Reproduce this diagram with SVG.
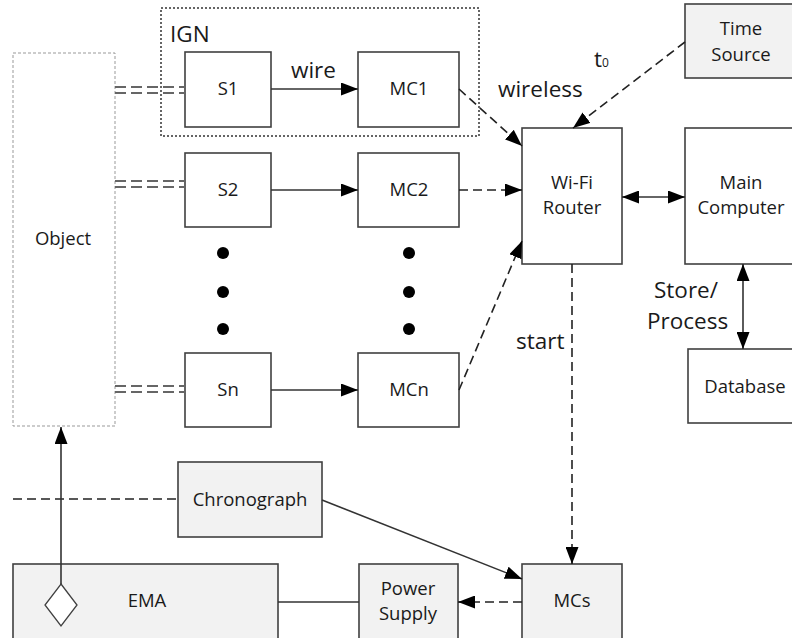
<svg xmlns="http://www.w3.org/2000/svg" width="792" height="638" viewBox="0 0 792 638">
<defs>
<marker id="ah" markerUnits="userSpaceOnUse" markerWidth="18" markerHeight="13" refX="17" refY="6.5" orient="auto-start-reverse">
<path d="M0,0 L17,6.5 L0,13 z" fill="#000"/>
</marker>
<style>
.box{fill:#fff;stroke:#404040;stroke-width:1.6}
.gbox{fill:#f2f2f2;stroke:#404040;stroke-width:1.6}
.t{font-family:"Open Sans","Liberation Sans",sans-serif;font-size:18.5px;fill:#1a1a1a;text-anchor:middle}
.lbl{font-family:"Open Sans","Liberation Sans",sans-serif;font-size:22.5px;fill:#1a1a1a}
.solid{fill:none;stroke:#333;stroke-width:1.6}
.dash{fill:none;stroke:#222;stroke-width:1.6;stroke-dasharray:9,5}
.dbl{fill:none;stroke:#666;stroke-width:2.2;stroke-dasharray:11,5}
</style>
</defs>
<rect width="792" height="638" fill="#fff"/>

<g id="IGN">
<rect x="161" y="8" width="318" height="128" fill="none" stroke="#333" stroke-width="1.5" stroke-dasharray="2,2"/>
<text class="lbl" x="170" y="42">IGN</text>
</g>

<g id="Object">
<rect x="13" y="53" width="102" height="373" fill="#fff" stroke="#999" stroke-width="1" stroke-dasharray="3,2"/>
<text class="t" x="63" y="245">Object</text>
</g>

<g id="S1"><rect class="box" x="185" y="52" width="86" height="75"/><text class="t" x="228" y="95">S1</text></g>
<g id="MC1"><rect class="box" x="358" y="52" width="101" height="75"/><text class="t" x="409" y="95">MC1</text></g>
<g id="S2"><rect class="box" x="185" y="153" width="86" height="74"/><text class="t" x="228" y="196">S2</text></g>
<g id="MC2"><rect class="box" x="358" y="153" width="101" height="74"/><text class="t" x="409" y="196">MC2</text></g>
<g id="Sn"><rect class="box" x="185" y="353" width="86" height="74"/><text class="t" x="228" y="396">Sn</text></g>
<g id="MCn"><rect class="box" x="358" y="353" width="101" height="74"/><text class="t" x="409" y="396">MCn</text></g>

<g id="dots" fill="#000">
<circle cx="223" cy="253" r="6"/><circle cx="223" cy="292" r="6"/><circle cx="223" cy="329" r="6"/>
<circle cx="409" cy="253" r="6"/><circle cx="409" cy="292" r="6"/><circle cx="409" cy="329" r="6"/>
</g>

<g id="TimeSource"><rect class="gbox" x="685" y="4" width="115" height="74"/><text class="t" x="741" y="35">Time</text><text class="t" x="741" y="61">Source</text></g>
<g id="Router"><rect class="box" x="522" y="128" width="100" height="136"/><text class="t" x="572" y="189">Wi-Fi</text><text class="t" x="572" y="214">Router</text></g>
<g id="MainComputer"><rect class="box" x="685" y="128" width="115" height="136"/><text class="t" x="741" y="189">Main</text><text class="t" x="741" y="214">Computer</text></g>
<g id="Database"><rect class="box" x="688" y="349" width="115" height="74"/><text class="t" x="745" y="393">Database</text></g>
<g id="Chronograph"><rect class="gbox" x="178" y="462" width="144" height="75"/><text class="t" x="250" y="506">Chronograph</text></g>
<g id="EMA"><rect class="gbox" x="13" y="564" width="265" height="80"/><text class="t" x="147" y="607">EMA</text>
<path d="M61,584 L77,605 L61,626 L45,605 z" fill="#fff" stroke="#404040" stroke-width="1.3"/></g>
<g id="PowerSupply"><rect class="gbox" x="359" y="564" width="99" height="80"/><text class="t" x="408" y="595">Power</text><text class="t" x="408" y="620">Supply</text></g>
<g id="MCs"><rect class="gbox" x="522" y="564" width="100" height="80"/><text class="t" x="572" y="607">MCs</text></g>

<g id="connectors">
<path class="dbl" d="M115,87 H185 M115,93 H185"/>
<path class="dbl" d="M115,181 H185 M115,187 H185"/>
<path class="dbl" d="M115,386 H185 M115,392 H185"/>
<path class="solid" d="M271,89 H358" marker-end="url(#ah)"/>
<path class="solid" d="M271,190 H358" marker-end="url(#ah)"/>
<path class="solid" d="M271,390 H358" marker-end="url(#ah)"/>
<path class="dash" d="M459,89 L522,146" marker-end="url(#ah)"/>
<path class="dash" d="M459,190 H522" marker-end="url(#ah)"/>
<path class="dash" d="M459,390 L522,241" marker-end="url(#ah)"/>
<path class="dash" d="M685,42 L573,128" marker-end="url(#ah)"/>
<path class="solid" d="M622,197 H685" marker-start="url(#ah)" marker-end="url(#ah)"/>
<path class="solid" d="M743,264 V349" marker-start="url(#ah)" marker-end="url(#ah)"/>
<path class="dash" d="M572,264 V564" marker-end="url(#ah)"/>
<path class="dash" d="M13,499 H178" stroke="#555" stroke-width="2"/>
<path class="solid" d="M322,500 L522,579" marker-end="url(#ah)"/>
<path class="dash" d="M522,602 H458" marker-end="url(#ah)"/>
<path class="solid" d="M278,602 H359"/>
<path class="solid" d="M61,584 V427" marker-end="url(#ah)"/>
</g>

<g id="labels">
<text class="lbl" x="291" y="78">wire</text>
<text class="lbl" x="498" y="97">wireless</text>
<text class="lbl" x="594" y="67">t<tspan font-size="12">0</tspan></text>
<text class="lbl" x="516" y="349">start</text>
<text class="lbl" x="654" y="298">Store/</text>
<text class="lbl" x="647" y="329">Process</text>
</g>
</svg>
